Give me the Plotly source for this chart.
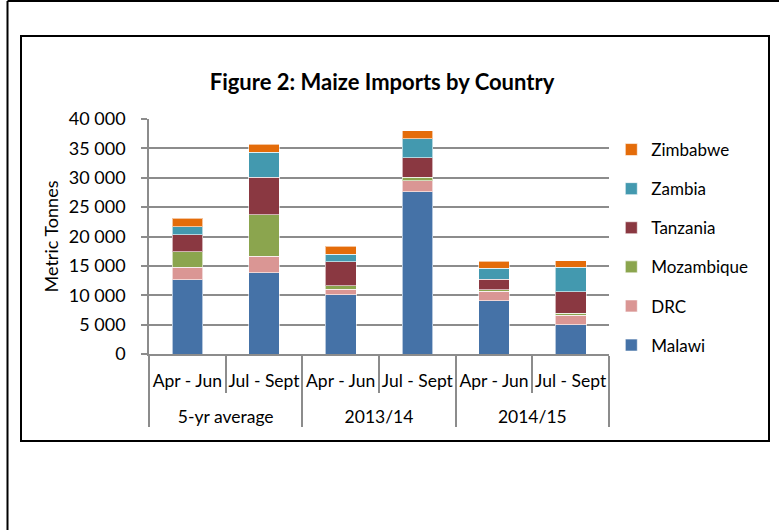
import plotly.graph_objects as go

# categories
periods = ["5-yr average", "5-yr average", "2013/14", "2013/14", "2014/15", "2014/15"]
quarters = ["Apr - Jun", "Jul - Sept", "Apr - Jun", "Jul - Sept", "Apr - Jun", "Jul - Sept"]

# metric tonnes per country (stacked segments)
malawi = [12600, 13800, 10100, 27600, 9100, 5000]
drc = [2200, 2800, 900, 1900, 1600, 1600]
mozambique = [2600, 7100, 600, 600, 200, 300]
tanzania = [2900, 6400, 4100, 3300, 1800, 3700]
zambia = [1400, 4200, 1300, 3200, 1900, 4200]
zimbabwe = [1400, 1400, 1300, 1400, 1200, 1100]

series = [
    ("Malawi", malawi, "#4572A7"),
    ("DRC", drc, "#DA9694"),
    ("Mozambique", mozambique, "#8BA54E"),
    ("Tanzania", tanzania, "#8A3841"),
    ("Zambia", zambia, "#4399AF"),
    ("Zimbabwe", zimbabwe, "#E46C0A"),
]

FONT = "Lato, 'Open Sans', sans-serif"
W, H = 779, 530
L, R, T, B = 149, 170, 119, 176
PW, PH = W - L - R, H - T - B


def px(x):
    return (x - L) / PW


def py(y):
    return (H - B - y) / PH


# padded first-row labels push the period row further down, as in the original
quarter_labels = [q + "<br> " for q in quarters]

fig = go.Figure()
for i, (name, vals, color) in enumerate(series):
    fig.add_trace(go.Bar(
        x=[periods, quarter_labels], y=vals, name=name,
        marker=dict(color=color, line=dict(color="rgba(255,255,255,0.6)", width=1)),
        legendgroup=name, legendrank=len(series) - i,
    ))

fig.update_layout(
    width=W, height=H,
    barmode="stack", bargap=0.6,
    separators=". ",
    font=dict(family=FONT, size=17, color="#000000"),
    paper_bgcolor="white", plot_bgcolor="white",
    margin=dict(l=L, r=R, t=T, b=B),
    title=dict(text="<b>Figure 2: Maize Imports by Country</b>", x=382 / W, xanchor="center",
               y=1 - 82 / H, yanchor="middle", font=dict(size=22)),
    legend=dict(x=1.005, xanchor="left", y=py(132), yanchor="top",
                traceorder="grouped", tracegroupgap=14,
                font=dict(size=17), bgcolor="rgba(0,0,0,0)"),
    showlegend=True,
)

fig.update_yaxes(
    range=[0, 40000], dtick=5000, tickformat=",d",
    showgrid=True, gridcolor="#8C8C8C", gridwidth=1.5,
    showline=True, linecolor="#8C8C8C", linewidth=1.5,
    ticks="outside", ticklen=6, tickcolor="#8C8C8C", tickwidth=1.5,
    ticklabelstandoff=12, tickfont=dict(size=18),
    title=dict(text="Metric Tonnes", font=dict(size=18), standoff=6),
    zeroline=False,
)
fig.update_xaxes(
    type="multicategory", tickangle=0,
    showline=True, linecolor="#8C8C8C", linewidth=1.5,
    ticks="outside", tickson="boundaries", ticklen=37, tickcolor="#8C8C8C", tickwidth=1.5,
    ticklabelstandoff=10,
    showdividers=True, dividercolor="#8C8C8C", dividerwidth=1.5,
    tickfont=dict(size=17.5),
)

# chart frame and page borders
fig.add_shape(type="rect", xref="paper", yref="paper",
              x0=px(21), x1=px(769), y0=py(441), y1=py(36),
              line=dict(color="#000000", width=2), layer="below")
fig.add_shape(type="line", xref="paper", yref="paper",
              x0=px(7.5), x1=px(779), y0=py(1), y1=py(1),
              line=dict(color="#000000", width=2))
fig.add_shape(type="line", xref="paper", yref="paper",
              x0=px(7.5), x1=px(7.5), y0=py(1), y1=py(530),
              line=dict(color="#000000", width=2))

fig.write_html("out.html", config={"displayModeBar": False},
               post_script="document.body.style.margin='0';document.body.style.overflow='hidden';")
